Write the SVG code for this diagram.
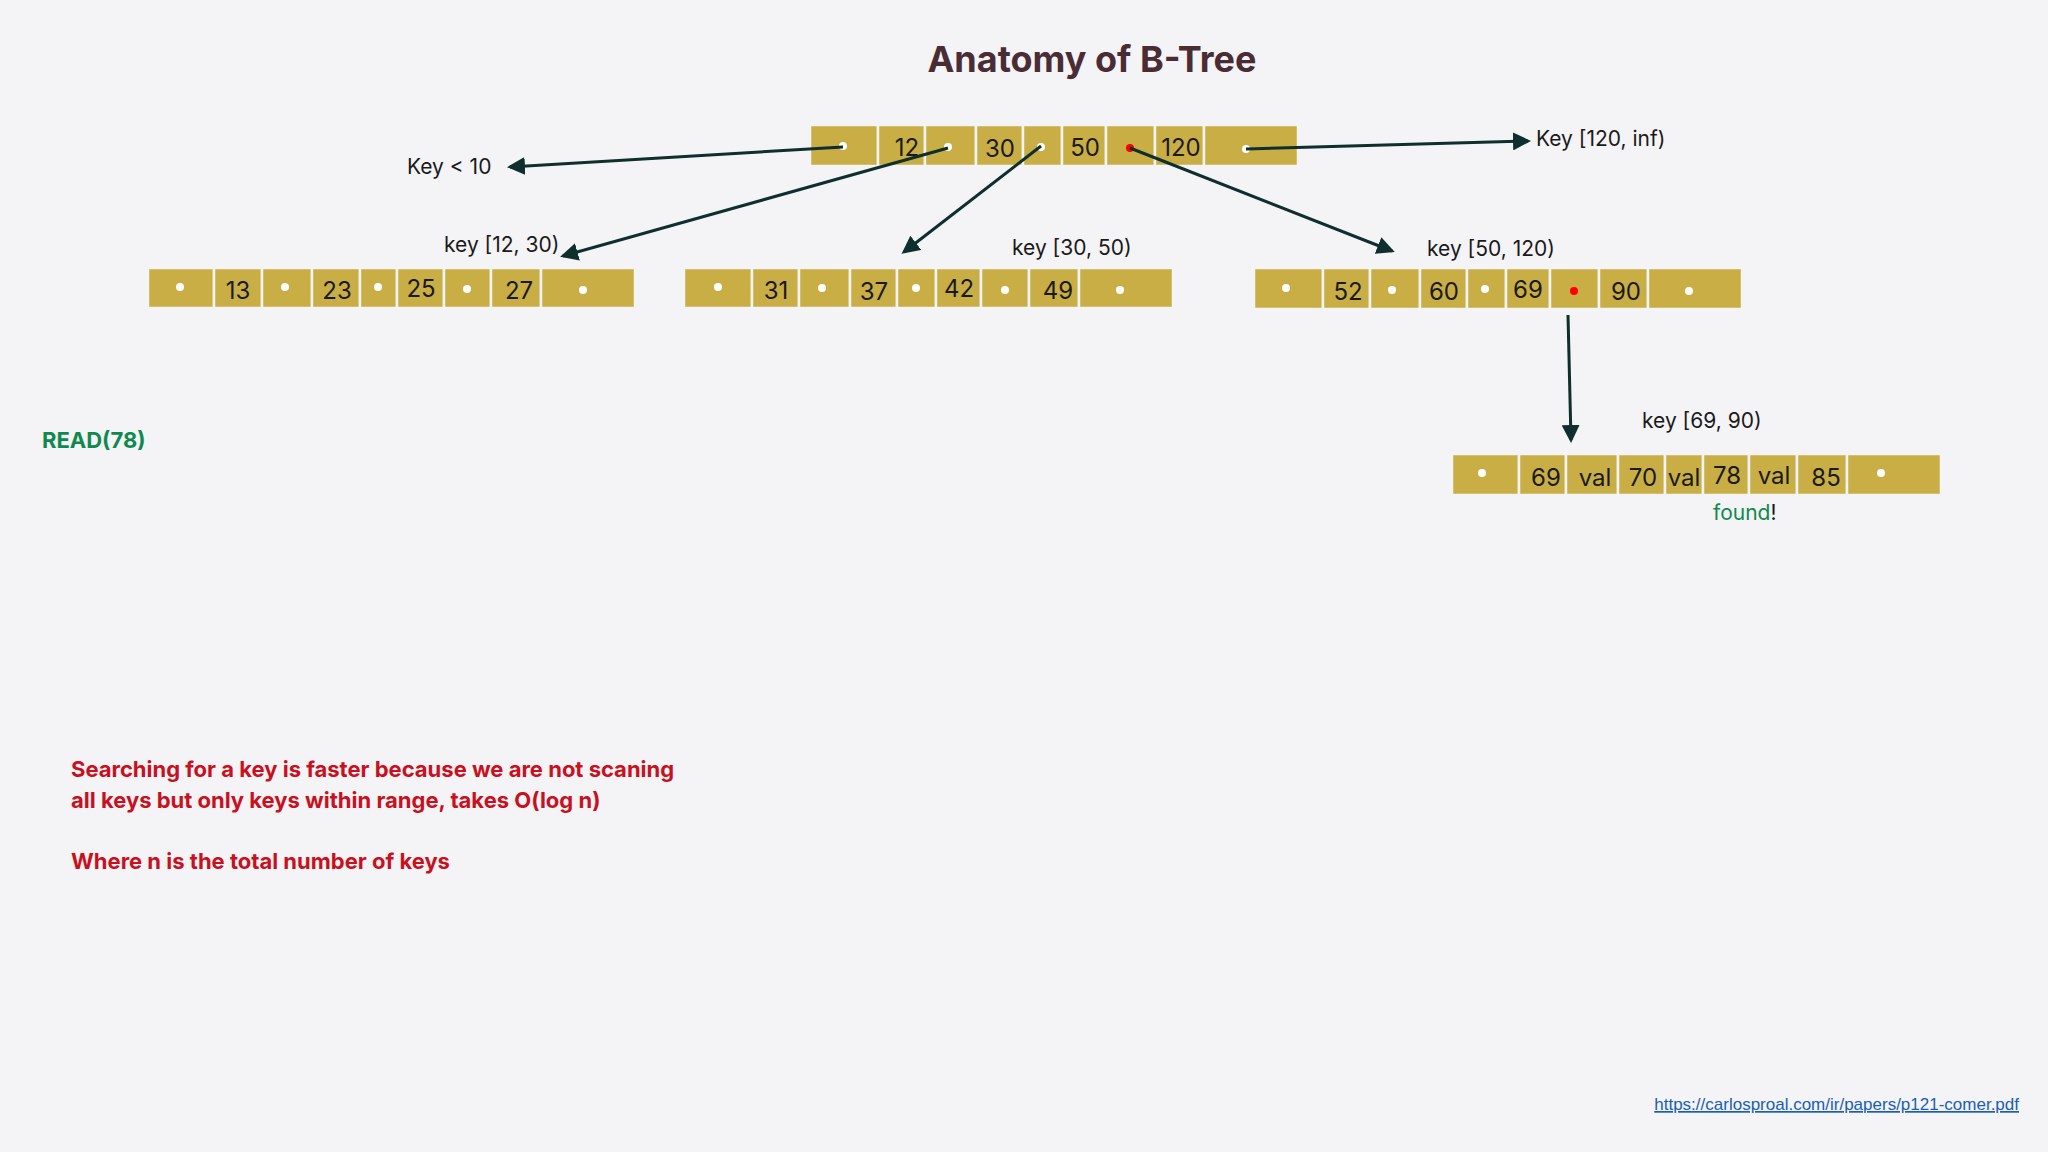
<svg xmlns="http://www.w3.org/2000/svg" width="2048" height="1152" viewBox="0 0 2048 1152">
<style>
.c{fill:#c8ae45;stroke:#f4f3f5;stroke-width:2.5}
.n{font-family:Inter,"Liberation Sans",sans-serif;font-size:24px;fill:#1a1a1a;text-anchor:middle}
.d{fill:#fff}
.r{fill:#f00}
.l{font-family:Inter,"Liberation Sans",sans-serif;font-size:21px;fill:#1a1a1a}
.e{stroke:#0f2e2e;stroke-width:3;fill:none;marker-end:url(#a)}
.red{font-family:Inter,"Liberation Sans",sans-serif;font-size:22px;font-weight:bold;fill:#c8101e}
</style>
<defs><marker id="a" markerWidth="6" markerHeight="6" refX="5" refY="3" orient="auto"><path d="M0,0 L6,3 L0,6 z" fill="#0f2e2e"/></marker></defs>
<rect width="2048" height="1152" fill="#f4f3f5"/>
<text x="1092" y="72" text-anchor="middle" font-family="Inter,'Liberation Sans',sans-serif" font-size="36" font-weight="bold" fill="#4a2c35">Anatomy of B-Tree</text>
<g id="root">
<rect class="c" x="810" y="125" width="68" height="41"/><rect class="c" x="878" y="125" width="47" height="41"/><rect class="c" x="925" y="125" width="51" height="41"/><rect class="c" x="976" y="125" width="47" height="41"/><rect class="c" x="1023" y="125" width="39" height="41"/><rect class="c" x="1062" y="125" width="44" height="41"/><rect class="c" x="1106" y="125" width="49" height="41"/><rect class="c" x="1155" y="125" width="49" height="41"/><rect class="c" x="1204" y="125" width="94" height="41"/>
<circle class="d" cx="843" cy="146" r="4"/><text class="n" x="907" y="156">12</text><circle class="d" cx="948" cy="147" r="4"/><text class="n" x="1000" y="157">30</text><circle class="d" cx="1041" cy="147" r="4"/><text class="n" x="1085" y="156">50</text><circle class="r" cx="1130" cy="148" r="4"/><text class="n" x="1181" y="156">120</text><circle class="d" cx="1246" cy="149" r="4"/>
</g>
<g id="left">
<rect class="c" x="148" y="268" width="66" height="40"/><rect class="c" x="214" y="268" width="48" height="40"/><rect class="c" x="262" y="268" width="50" height="40"/><rect class="c" x="312" y="268" width="48" height="40"/><rect class="c" x="360" y="268" width="37" height="40"/><rect class="c" x="397" y="268" width="47" height="40"/><rect class="c" x="444" y="268" width="47" height="40"/><rect class="c" x="491" y="268" width="50" height="40"/><rect class="c" x="541" y="268" width="94" height="40"/>
<circle class="d" cx="180" cy="287" r="4"/><text class="n" x="238" y="299">13</text><circle class="d" cx="285" cy="287" r="4"/><text class="n" x="337" y="299">23</text><circle class="d" cx="378" cy="287" r="4"/><text class="n" x="421" y="297">25</text><circle class="d" cx="467" cy="289" r="4"/><text class="n" x="519" y="299">27</text><circle class="d" cx="583" cy="290" r="4"/>
</g>
<g id="middle">
<rect class="c" x="684" y="268" width="68" height="40"/><rect class="c" x="752" y="268" width="47" height="40"/><rect class="c" x="799" y="268" width="51" height="40"/><rect class="c" x="850" y="268" width="47" height="40"/><rect class="c" x="897" y="268" width="39" height="40"/><rect class="c" x="936" y="268" width="45" height="40"/><rect class="c" x="981" y="268" width="48" height="40"/><rect class="c" x="1029" y="268" width="50" height="40"/><rect class="c" x="1079" y="268" width="94" height="40"/>
<circle class="d" cx="718" cy="287" r="4"/><text class="n" x="776" y="299">31</text><circle class="d" cx="822" cy="288" r="4"/><text class="n" x="874" y="300">37</text><circle class="d" cx="916" cy="288" r="4"/><text class="n" x="959" y="297">42</text><circle class="d" cx="1005" cy="290" r="4"/><text class="n" x="1058" y="299">49</text><circle class="d" cx="1120" cy="290" r="4"/>
</g>
<g id="right">
<rect class="c" x="1254" y="268" width="69" height="41"/><rect class="c" x="1323" y="268" width="47" height="41"/><rect class="c" x="1370" y="268" width="50" height="41"/><rect class="c" x="1420" y="268" width="47" height="41"/><rect class="c" x="1467" y="268" width="39" height="41"/><rect class="c" x="1506" y="268" width="44" height="41"/><rect class="c" x="1550" y="268" width="49" height="41"/><rect class="c" x="1599" y="268" width="49" height="41"/><rect class="c" x="1648" y="268" width="94" height="41"/>
<circle class="d" cx="1286" cy="288" r="4"/><text class="n" x="1348" y="300">52</text><circle class="d" cx="1392" cy="290" r="4"/><text class="n" x="1444" y="300">60</text><circle class="d" cx="1485" cy="289" r="4"/><text class="n" x="1528" y="298">69</text><circle class="r" cx="1574" cy="291" r="4"/><text class="n" x="1626" y="300">90</text><circle class="d" cx="1689" cy="291" r="4"/>
</g>
<g id="leaf">
<rect class="c" x="1452" y="454" width="67" height="41"/><rect class="c" x="1519" y="454" width="47" height="41"/><rect class="c" x="1566" y="454" width="52" height="41"/><rect class="c" x="1618" y="454" width="47" height="41"/><rect class="c" x="1665" y="454" width="38" height="41"/><rect class="c" x="1703" y="454" width="46" height="41"/><rect class="c" x="1749" y="454" width="48" height="41"/><rect class="c" x="1797" y="454" width="50" height="41"/><rect class="c" x="1847" y="454" width="94" height="41"/>
<circle class="d" cx="1482" cy="473" r="4"/><text class="n" x="1546" y="486">69</text><text class="n" x="1595" y="486" font-size="22">val</text><text class="n" x="1643" y="486">70</text><text class="n" x="1684" y="486" font-size="22">val</text><text class="n" x="1727" y="484">78</text><text class="n" x="1774" y="484" font-size="22">val</text><text class="n" x="1826" y="486">85</text><circle class="d" cx="1881" cy="473" r="4"/>
</g>
<g id="connectors">
<path class="e" d="M843,147 L510,167"/>
<path class="e" d="M1246,149 L1528,141"/>
<path class="e" d="M948,148 L563,256"/>
<path class="e" d="M1041,146 L904,252"/>
<path class="e" d="M1130,148 L1392,251"/>
<path class="e" d="M1568,315 L1571,440"/>
</g>
<g id="labels">
<text class="l" x="407" y="174">Key &lt; 10</text>
<text class="l" x="1536" y="146">Key [120, inf)</text>
<text class="l" x="444" y="252">key [12, 30)</text>
<text class="l" x="1012" y="255">key [30, 50)</text>
<text class="l" x="1427" y="256">key [50, 120)</text>
<text class="l" x="1642" y="428">key [69, 90)</text>
<text class="l" x="1713" y="520"><tspan fill="#0f8a4f">found</tspan>!</text>
<text x="42" y="448" font-family="Inter,'Liberation Sans',sans-serif" font-size="22" font-weight="bold" fill="#0f8a4f">READ(78)</text>
<text class="red" x="71" y="777">Searching for a key is faster because we are not scaning</text>
<text class="red" x="71" y="808">all keys but only keys within range, takes O(log n)</text>
<text class="red" x="71" y="869">Where n is the total number of keys</text>
<text x="2019" y="1110" text-anchor="end" font-family="'Liberation Sans',Arial,sans-serif" font-size="17" fill="#1a5fb4" text-decoration="underline">https://carlosproal.com/ir/papers/p121-comer.pdf</text>
</g>
</svg>
